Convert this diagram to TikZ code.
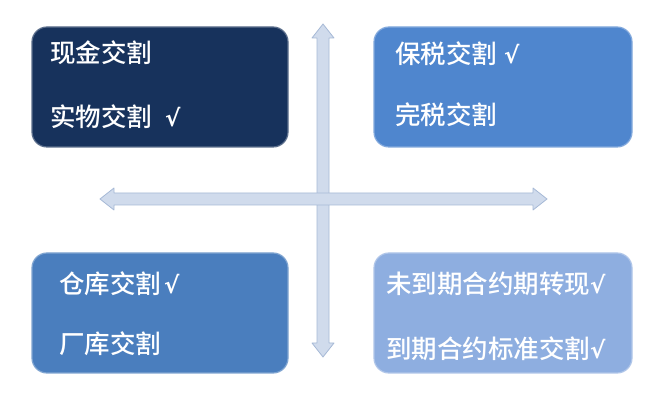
\documentclass[tikz,border=0pt]{standalone}
\usepackage{fontspec}
\usetikzlibrary{calc}
\setmainfont{Noto Sans CJK SC}
\newfontfamily\cjk{Noto Sans CJK SC Medium}
\newfontfamily\chk{DejaVu Sans}
\definecolor{navy}{HTML}{17325C}
\definecolor{midblue}{HTML}{4F86CE}
\definecolor{bluebl}{HTML}{4A7EBE}
\definecolor{lightbl}{HTML}{8EAEE0}
\definecolor{arrfill}{HTML}{D0DBEC}
\definecolor{arredge}{HTML}{A6B9D6}
\begin{document}
\begin{tikzpicture}[x=1pt,y=-1pt,
  quad/.style={draw=#1!70!white, line width=1.2pt, fill=#1, rounded corners=15pt},
  lbl/.style={anchor=west, text=white, inner sep=0pt, font=\fontsize{25.5}{28}\selectfont\cjk},
  axis/.style={fill=arrfill, draw=arredge, line width=0.8pt, line join=round}]
\useasboundingbox (0,0) rectangle (664,411);
\fill[white] (0,0) rectangle (664,411);
% axes
\coordinate (vt) at (323,24);
\coordinate (vb) at (323,357);
\coordinate (hl) at (100,199);
\coordinate (hr) at (547,199);
\draw[axis] (vt) -- ++(11,14) -- ++(-5,0) -- ($(vb)+(6,-14)$) -- ++(5,0) -- (vb) -- ++(-11,-14) -- ++(5,0) -- ($(vt)+(-6,14)$) -- ++(-5,0) -- cycle;
\draw[axis] (hl) -- ++(14,-11) -- ++(0,5) -- ($(hr)+(-14,-6)$) -- ++(0,-5) -- (hr) -- ++(-14,11) -- ++(0,-5) -- ($(hl)+(14,6)$) -- ++(0,5) -- cycle;
% boxes
\draw[quad=navy] (32,27) rectangle (288,147);
\draw[quad=midblue] (374,27) rectangle (632,147);
\draw[quad=bluebl] (32,253) rectangle (288,373);
\draw[quad=lightbl] (374,253) rectangle (632,373);
% labels
\newcommand\ckm{{\chk\bfseries\fontsize{23}{26}\selectfont √}}
\node[lbl] (a1) at (50,53) {现金交割};
\node[lbl] (a2) at (50,117) {实物交割\hspace{13pt}\ckm};
\node[lbl] (b1) at (395,54) {保税交割\hspace{7pt}\ckm};
\node[lbl] (b2) at (395,115) {完税交割};
\node[lbl] (c1) at (59,284) {仓库交割\hspace{3pt}\ckm};
\node[lbl] (c2) at (59,344) {厂库交割};
\node[lbl] (d1) at (386,284) {未到期合约期转现\ckm};
\node[lbl] (d2) at (386,349) {到期合约标准交割\ckm};
\end{tikzpicture}
\end{document}
